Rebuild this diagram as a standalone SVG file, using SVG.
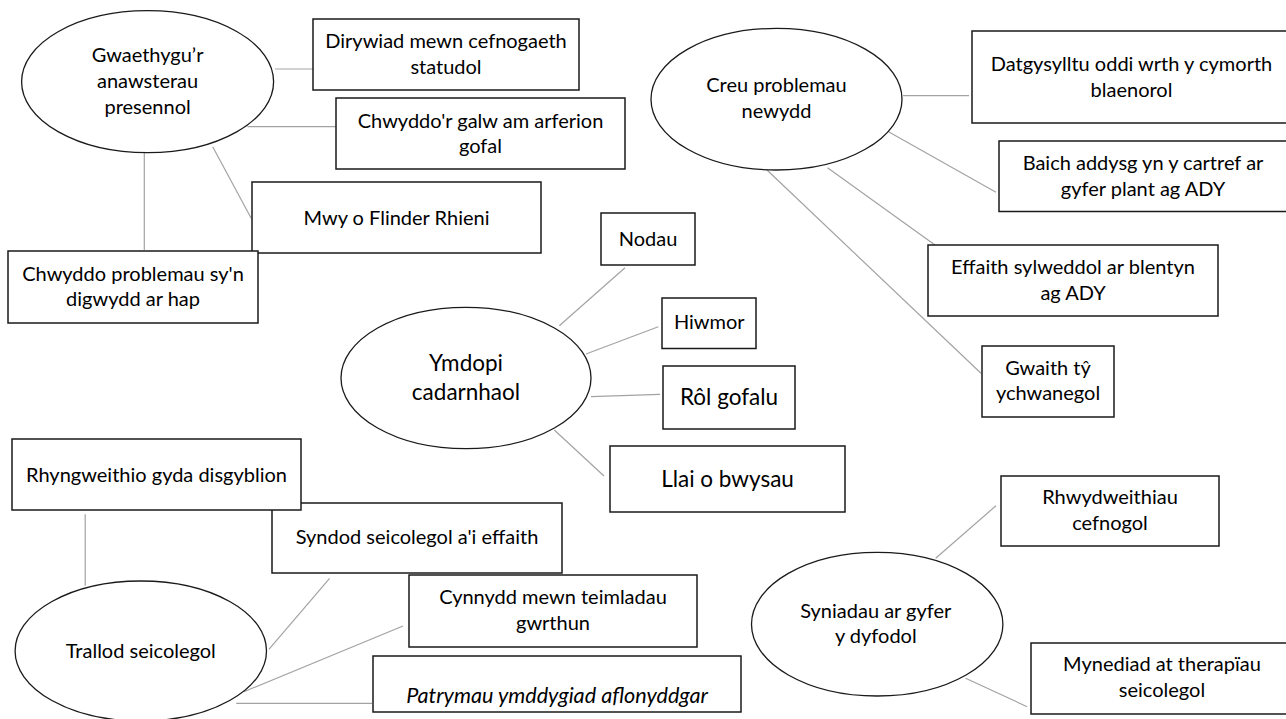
<svg xmlns="http://www.w3.org/2000/svg" width="1286" height="719" viewBox="0 0 1286 719">
  <style>
    .box{fill:#fff;stroke:#1a1a1a;stroke-width:1.5}
    .oval{fill:#fff;stroke:#1a1a1a;stroke-width:1.3}
    .link{stroke:#a3a3a3;stroke-width:1.2;fill:none}
    text{font-family:Lato,"Open Sans","Liberation Sans",sans-serif;font-size:20px;fill:#000;text-anchor:middle}
    .big{font-size:22.5px}
    .it{font-style:italic;font-size:21.6px}
  </style>
  <rect width="1286" height="719" fill="#fff"/>

  <!-- connectors -->
  <g id="connectors" class="link">
    <line x1="275" y1="69" x2="313" y2="69"/>
    <line x1="247.5" y1="126.7" x2="336" y2="126.7"/>
    <line x1="212.7" y1="146.7" x2="251.2" y2="218.3"/>
    <line x1="144.3" y1="152.7" x2="144.3" y2="250"/>
    <line x1="903" y1="95.7" x2="969" y2="95.7"/>
    <line x1="889" y1="132" x2="996" y2="192.3"/>
    <line x1="827.5" y1="167.7" x2="935" y2="245"/>
    <line x1="767" y1="170" x2="981" y2="373.3"/>
    <line x1="625" y1="267.7" x2="559.3" y2="325.7"/>
    <line x1="658.3" y1="326.7" x2="586" y2="354"/>
    <line x1="660" y1="394.3" x2="591" y2="396.7"/>
    <line x1="554.3" y1="430" x2="604" y2="476"/>
    <line x1="85.2" y1="514.3" x2="85.2" y2="585.7"/>
    <line x1="329.6" y1="578.3" x2="268.9" y2="649.3"/>
    <line x1="403" y1="626" x2="243.9" y2="691.7"/>
    <line x1="236.2" y1="703.3" x2="372" y2="703.3"/>
    <line x1="996" y1="505.7" x2="935.7" y2="558.3"/>
    <line x1="1027.2" y1="706.7" x2="965.6" y2="678.3"/>
  </g>

  <!-- cluster: worsening of existing difficulties -->
  <g id="gwaethygu">
    <ellipse class="oval" cx="147.6" cy="81.7" rx="126" ry="71"/>
    <text x="147.6" y="62">Gwaethygu’r</text>
    <text x="147.6" y="88">anawsterau</text>
    <text x="147.6" y="114">presennol</text>
  </g>
  <g id="dirywiad">
    <rect class="box" x="313" y="19" width="266" height="71"/>
    <text x="446" y="48">Dirywiad mewn cefnogaeth</text>
    <text x="446" y="74">statudol</text>
  </g>
  <g id="chwyddo-galw">
    <rect class="box" x="336" y="98" width="289" height="71"/>
    <text x="480.5" y="127.5">Chwyddo'r galw am arferion</text>
    <text x="480.5" y="153">gofal</text>
  </g>
  <g id="mwy-flinder">
    <rect class="box" x="252" y="182" width="289" height="71"/>
    <text x="396.5" y="225">Mwy o Flinder Rhieni</text>
  </g>
  <g id="chwyddo-problemau">
    <rect class="box" x="8" y="251" width="250" height="72"/>
    <text x="133" y="280.5">Chwyddo problemau sy'n</text>
    <text x="133" y="306">digwydd ar hap</text>
  </g>

  <!-- cluster: new problems -->
  <g id="creu">
    <ellipse class="oval" cx="776.5" cy="99.2" rx="125.5" ry="70.8"/>
    <text x="776.5" y="92">Creu problemau</text>
    <text x="776.5" y="118">newydd</text>
  </g>
  <g id="datgysylltu">
    <rect class="box" x="972" y="31" width="320" height="92"/>
    <text x="1131.5" y="71">Datgysylltu oddi wrth y cymorth</text>
    <text x="1131.5" y="96.5">blaenorol</text>
  </g>
  <g id="baich">
    <rect class="box" x="999" y="141" width="290" height="70.5"/>
    <text x="1143" y="170">Baich addysg yn y cartref ar</text>
    <text x="1143" y="196">gyfer plant ag ADY</text>
  </g>
  <g id="effaith">
    <rect class="box" x="928" y="245" width="290" height="71"/>
    <text x="1073" y="274">Effaith sylweddol ar blentyn</text>
    <text x="1073" y="299.5">ag ADY</text>
  </g>
  <g id="gwaith">
    <rect class="box" x="982" y="346" width="132" height="71"/>
    <text x="1048" y="375">Gwaith tŷ</text>
    <text x="1048" y="400">ychwanegol</text>
  </g>

  <!-- cluster: positive coping -->
  <g id="ymdopi">
    <ellipse class="oval" cx="466" cy="378" rx="125" ry="70.7"/>
    <text class="big" x="466" y="371">Ymdopi</text>
    <text class="big" x="466" y="400">cadarnhaol</text>
  </g>
  <g id="nodau">
    <rect class="box" x="601" y="213" width="94" height="52"/>
    <text x="648" y="245.5">Nodau</text>
  </g>
  <g id="hiwmor">
    <rect class="box" x="662" y="298" width="94" height="50.5"/>
    <text x="709.3" y="329">Hiwmor</text>
  </g>
  <g id="rol-gofalu">
    <rect class="box" x="663" y="366" width="132" height="63"/>
    <text class="big" x="729" y="405">Rôl gofalu</text>
  </g>
  <g id="llai-bwysau">
    <rect class="box" x="610" y="446" width="235" height="66"/>
    <text class="big" x="727.5" y="486.5">Llai o bwysau</text>
  </g>

  <!-- cluster: psychological distress -->
  <g id="syndod">
    <rect class="box" x="272" y="503" width="290" height="70"/>
    <text x="417" y="544">Syndod seicolegol a'i effaith</text>
  </g>
  <g id="rhyngweithio">
    <rect class="box" x="12" y="439" width="289" height="71"/>
    <text x="156.5" y="481.5">Rhyngweithio gyda disgyblion</text>
  </g>
  <g id="trallod">
    <ellipse class="oval" cx="140.8" cy="651" rx="125.7" ry="70"/>
    <text x="140.8" y="658">Trallod seicolegol</text>
  </g>
  <g id="cynnydd">
    <rect class="box" x="409" y="575" width="288" height="72"/>
    <text x="553" y="604">Cynnydd mewn teimladau</text>
    <text x="553" y="630">gwrthun</text>
  </g>
  <g id="patrymau">
    <rect class="box" x="373" y="656" width="368" height="56"/>
    <text class="it" x="557" y="703">Patrymau ymddygiad aflonyddgar</text>
  </g>

  <!-- cluster: ideas for the future -->
  <g id="syniadau">
    <ellipse class="oval" cx="877.2" cy="624.2" rx="125.7" ry="71.8"/>
    <text x="875.8" y="618">Syniadau ar gyfer</text>
    <text x="875.8" y="643">y dyfodol</text>
  </g>
  <g id="rhwydweithiau">
    <rect class="box" x="1001" y="476" width="218" height="70"/>
    <text x="1110" y="504">Rhwydweithiau</text>
    <text x="1110" y="530">cefnogol</text>
  </g>
  <g id="mynediad">
    <rect class="box" x="1031" y="643" width="262" height="71"/>
    <text x="1162" y="670.5">Mynediad at therapïau</text>
    <text x="1162" y="696.5">seicolegol</text>
  </g>
</svg>
